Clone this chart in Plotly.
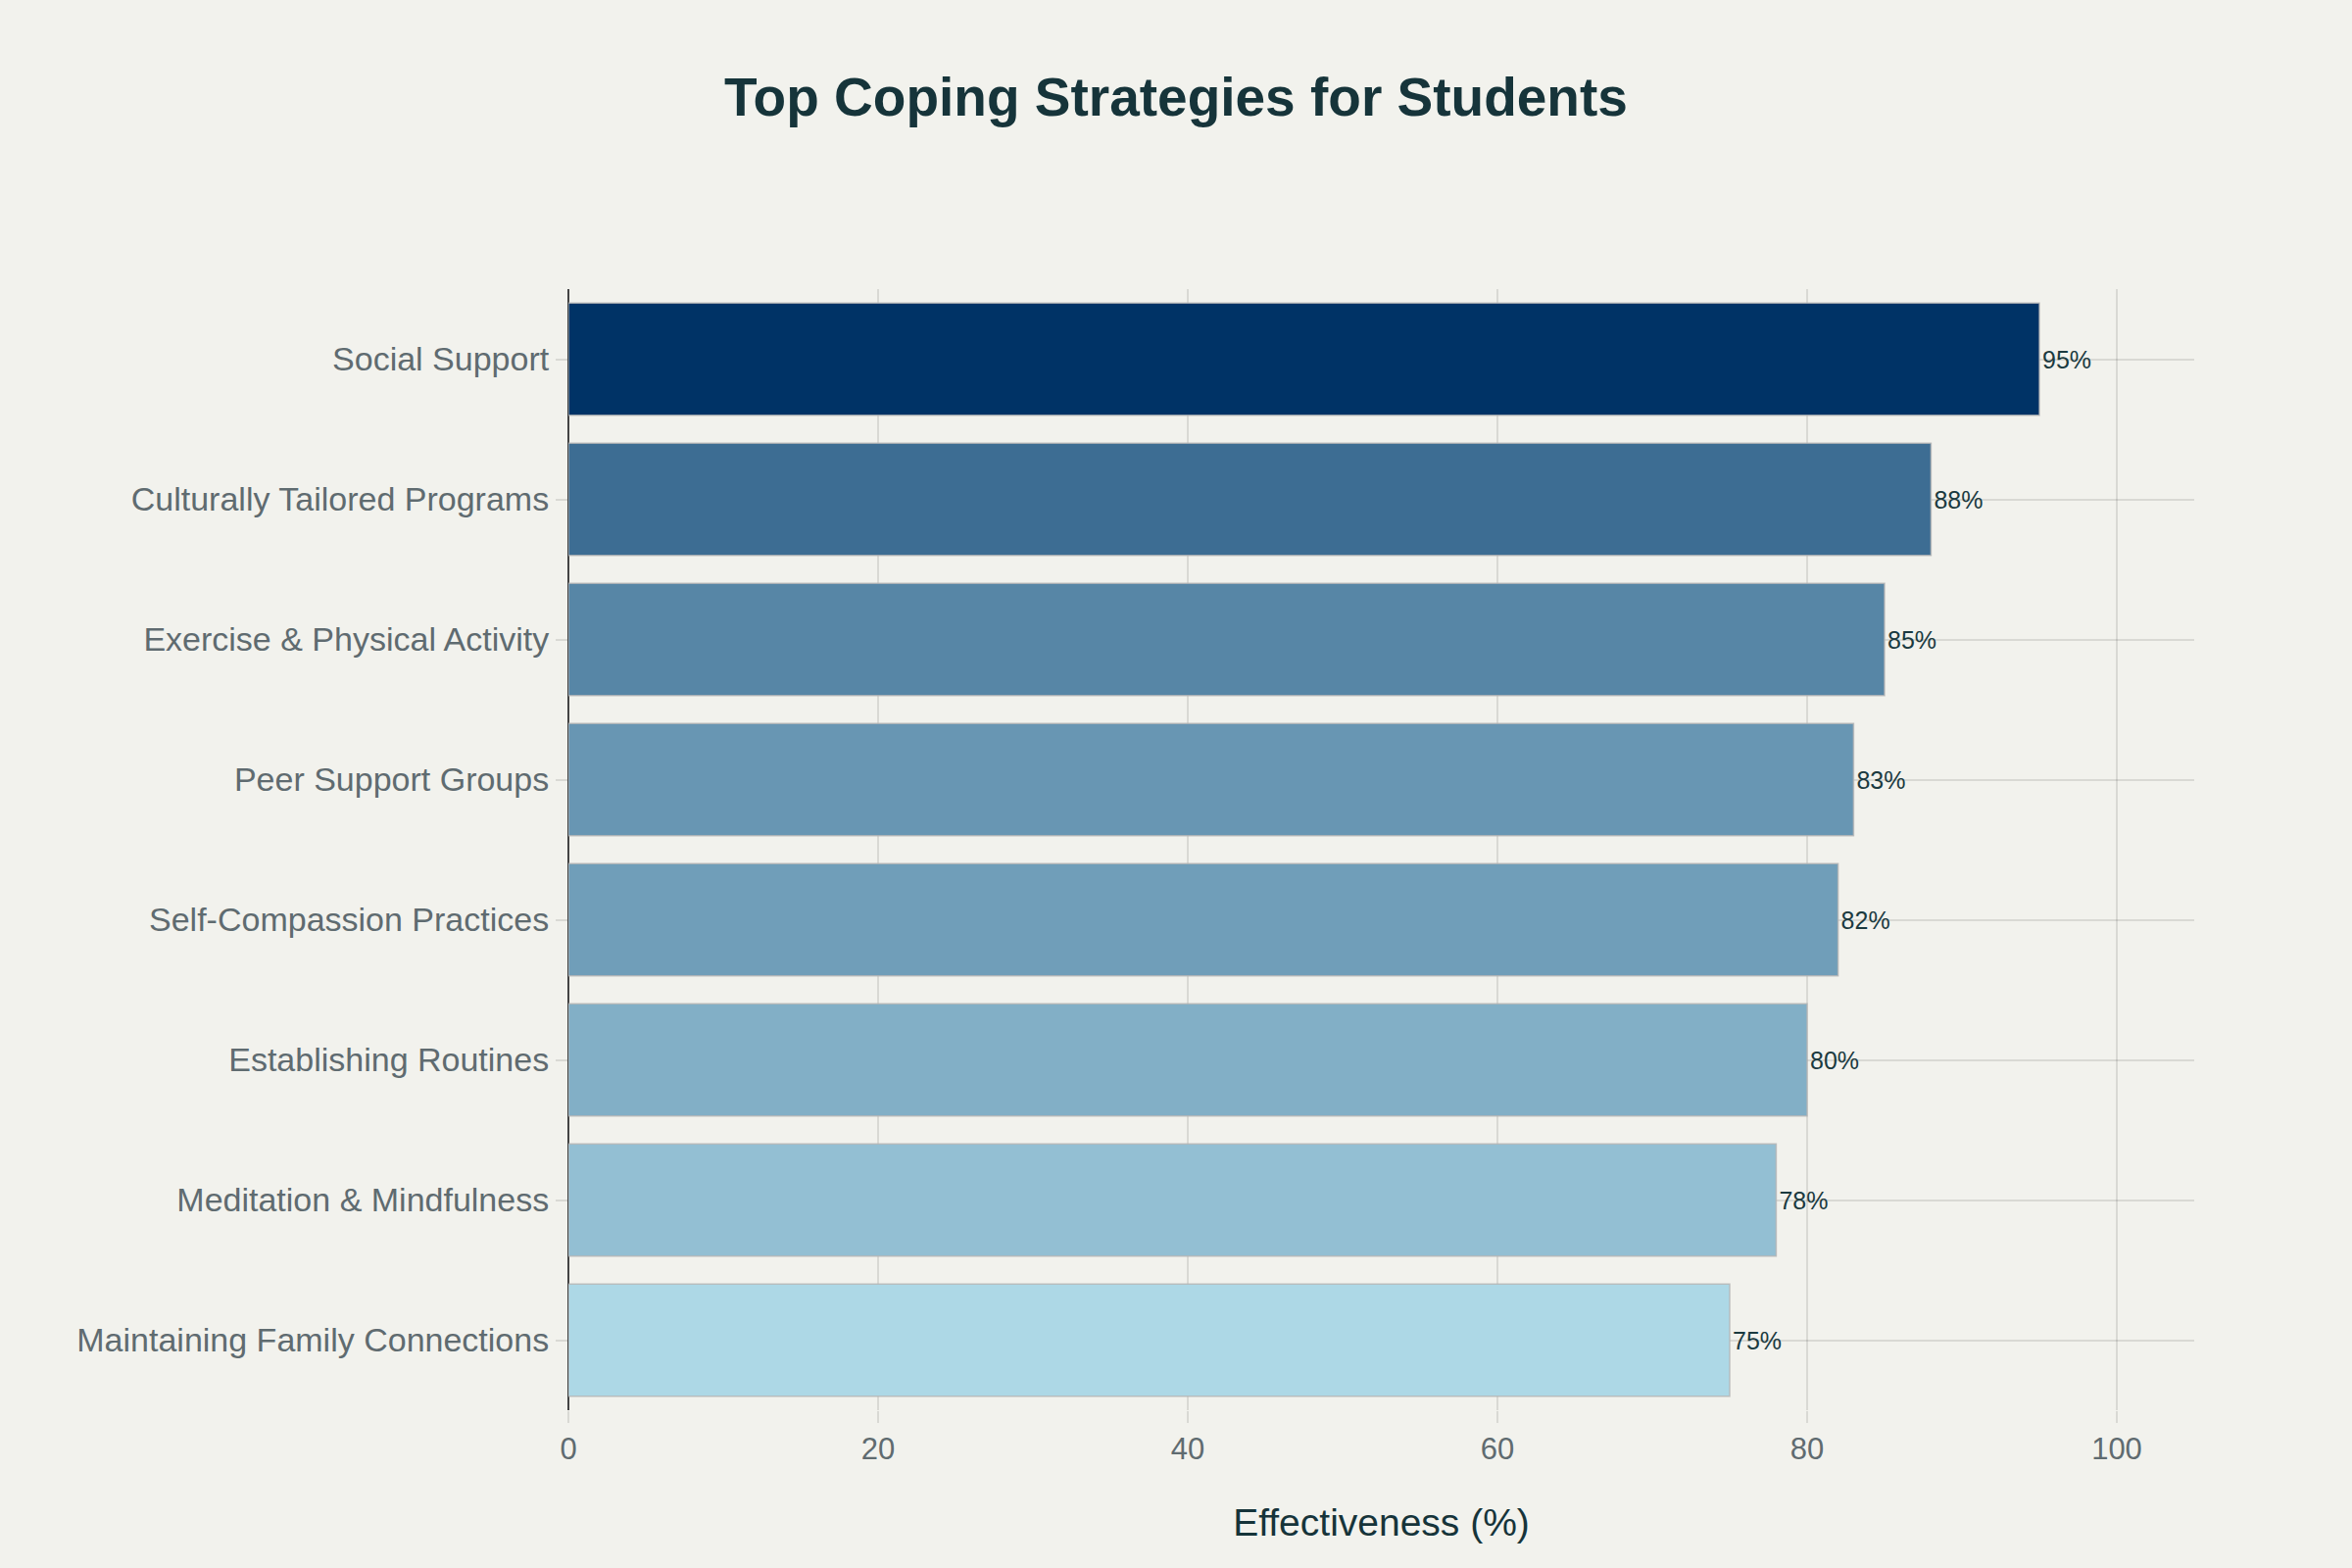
import plotly.graph_objects as go

strategies = [
    "Maintaining Family Connections",
    "Meditation & Mindfulness",
    "Establishing Routines",
    "Self-Compassion Practices",
    "Peer Support Groups",
    "Exercise & Physical Activity",
    "Culturally Tailored Programs",
    "Social Support",
]
effectiveness = [75, 78, 80, 82, 83, 85, 88, 95]

title_text = "Top Coping Strategies for Students"
x_title = "Effectiveness (%)"

fig = go.Figure(
    go.Bar(
        x=effectiveness,
        y=strategies,
        orientation="h",
        marker=dict(
            color=effectiveness,
            colorscale=[[0, "#ADD8E6"], [1, "#003366"]],
            line=dict(color="rgba(180,180,180,0.8)", width=1.5),
        ),
        text=[f"{v}%" for v in effectiveness],
        textposition="outside",
        textfont=dict(family="Liberation Sans, Arial, sans-serif", size=25, color="#1b3a40"),
        cliponaxis=False,
        width=0.8,
    )
)

fig.update_layout(
    width=2400,
    height=1600,
    paper_bgcolor="#f2f2ed",
    plot_bgcolor="#f2f2ed",
    margin=dict(l=580, r=161, t=295, b=161),
    title=dict(
        text=f"<b>{title_text}</b>",
        x=0.5,
        xanchor="center",
        y=1 - 99 / 1600,
        yanchor="middle",
        font=dict(family="Liberation Sans, Arial, sans-serif", size=55, color="#16343a"),
    ),
    showlegend=False,
    font=dict(family="Liberation Sans, Arial, sans-serif"),
)

fig.update_xaxes(
    range=[0, 105],
    tickvals=[0, 20, 40, 60, 80, 100],
    showgrid=True,
    gridcolor="rgba(0,0,0,0.1)",
    gridwidth=2,
    zeroline=True,
    zerolinecolor="#444444",
    zerolinewidth=2,
    ticks="outside",
    ticklen=12,
    tickcolor="rgba(0,0,0,0.1)",
    tickwidth=2,
    tickfont=dict(size=31, color="#5f6b70"),
    title=dict(text=x_title, font=dict(size=39, color="#16343a"), standoff=44),
    showline=False,
)

fig.update_yaxes(
    categoryorder="array",
    categoryarray=strategies,
    showgrid=True,
    gridcolor="rgba(0,0,0,0.1)",
    gridwidth=2,
    ticks="outside",
    ticklen=12,
    tickcolor="rgba(0,0,0,0.1)",
    tickwidth=2,
    tickfont=dict(size=34, color="#5f6b70"),
    showline=False,
)

fig.write_html("out.html")
